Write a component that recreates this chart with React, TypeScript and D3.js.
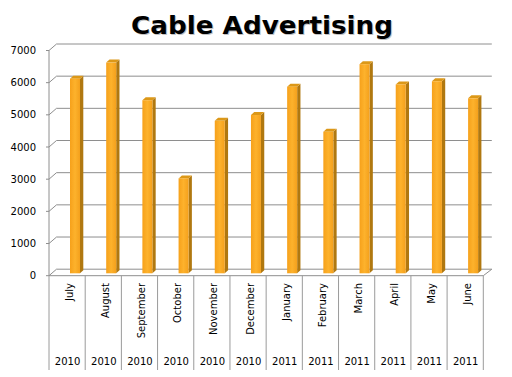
import React from "react";
import * as d3 from "d3";

const months = ["July", "August", "September", "October", "November", "December", "January", "February", "March", "April", "May", "June"];
const years = ["2010", "2010", "2010", "2010", "2010", "2010", "2011", "2011", "2011", "2011", "2011", "2011"];
const values = [6050, 6550, 5380, 2950, 4740, 4920, 5800, 4400, 6500, 5870, 5970, 5440];
const yTicks = [0, 1000, 2000, 3000, 4000, 5000, 6000, 7000];
const title = "Cable Advertising";

export default function App() {
  const W = 512, H = 377;
  const frontLeft = 49, frontRight = 483.3;
  const wallDx = 7.5, wallDy = -6.5;
  const x = d3.scaleBand<string>().domain(months).range([frontLeft, frontRight]).padding(0);
  const yFront = d3.scaleLinear().domain([0, 7000]).range([275.7, 50.5]);
  const yBar = d3.scaleLinear().domain([0, 7000]).range([273.3, 48.1]);
  const barW = 10, bdx = 3.3, bdy = -3;
  const grid = "#8e8e8e";

  return (
    <svg width={W} height={H} style={{ position: "fixed", left: 0, top: 0, background: "#fff" }} fontFamily="DejaVu Sans, Verdana, sans-serif">
      <defs>
        <linearGradient id="frontG" x1="0" x2="1" y1="0" y2="0">
          <stop offset="0" stopColor="#F6A11B" />
          <stop offset="0.5" stopColor="#FDB22C" />
          <stop offset="1" stopColor="#F4A01C" />
        </linearGradient>
      </defs>
      <text x={262} y={34} textAnchor="middle" fontSize={25} fontWeight="bold" fill="#9a9a9a" opacity={0.6} textLength={262} lengthAdjust="spacingAndGlyphs" transform="translate(1,1)">{title}</text>
      <text x={262} y={34} textAnchor="middle" fontSize={25} fontWeight="bold" fill="#000" textLength={262} lengthAdjust="spacingAndGlyphs">{title}</text>

      {/* gridlines: side wall diagonal + back wall horizontal */}
      {yTicks.map((t) => {
        const yf = yFront(t);
        return (
          <g key={t}>
            <polyline points={`${frontLeft},${yf} ${frontLeft + wallDx},${yf + wallDy} ${frontRight + wallDx + 1},${yf + wallDy}`} fill="none" stroke={grid} strokeWidth={1} />
            <line x1={frontLeft - 3} x2={frontLeft} y1={yf} y2={yf} stroke={grid} />
            <text x={36} y={yf} textAnchor="end" dominantBaseline="central" fontSize={10} fill="#000">{t}</text>
          </g>
        );
      })}
      {/* vertical axis */}
      <line x1={frontLeft} x2={frontLeft} y1={yFront(7000)} y2={yFront(0)} stroke={grid} />
      {/* floor front edge and right diagonal */}
      <polyline points={`${frontLeft},${yFront(0)} ${frontRight},${yFront(0)} ${frontRight + wallDx + 1},${yFront(0) + wallDy}`} fill="none" stroke={grid} />

      {/* bars */}
      {values.map((v, i) => {
        const x0 = (x(months[i]) as number) + 21;
        const yt = yBar(v);
        const yb = yBar(0);
        return (
          <g key={months[i]}>
            <polygon points={`${x0 + barW},${yt} ${x0 + barW + bdx},${yt + bdy} ${x0 + barW + bdx},${yb + bdy} ${x0 + barW},${yb}`} fill="#B07810" />
            <polygon points={`${x0},${yt} ${x0 + barW},${yt} ${x0 + barW + bdx},${yt + bdy} ${x0 + bdx},${yt + bdy}`} fill="#DC9818" />
            <rect x={x0} y={yt} width={barW} height={yb - yt} fill="url(#frontG)" />
          </g>
        );
      })}

      {/* category dividers */}
      {months.map((m, i) => (
        <line key={"d" + m} x1={x(m) as number} x2={x(m) as number} y1={yFront(0)} y2={370} stroke="#9a9a9a" />
      ))}
      <line x1={frontRight} x2={frontRight} y1={yFront(0)} y2={370} stroke="#9a9a9a" />

      {/* month labels */}
      {months.map((m) => {
        const cx = (x(m) as number) + x.bandwidth() / 2 + 5.5;
        return (
          <text key={"m" + m} transform={`translate(${cx},283) rotate(-90)`} textAnchor="end" fontSize={10} fill="#000">{m}</text>
        );
      })}
      {/* year labels */}
      {months.map((m, i) => (
        <text key={"y" + m} x={(x(m) as number) + x.bandwidth() / 2 + 0.5} y={365} textAnchor="middle" fontSize={10} fill="#000">{years[i]}</text>
      ))}
    </svg>
  );
}
